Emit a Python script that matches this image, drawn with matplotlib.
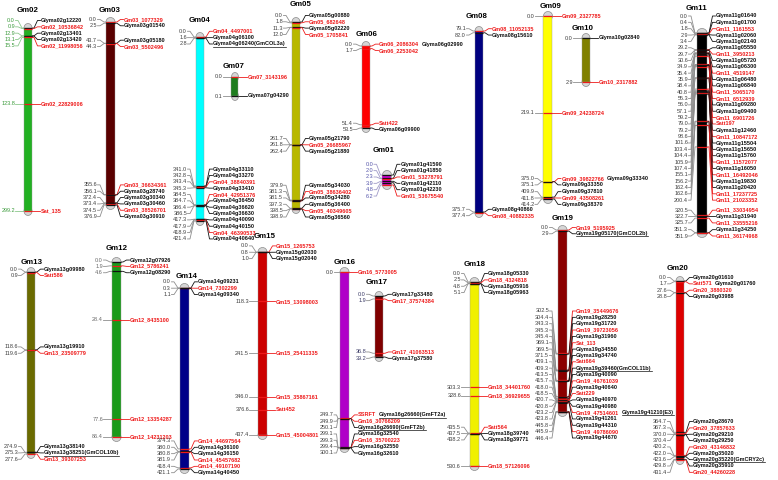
import matplotlib.pyplot as plt
from matplotlib.patches import Rectangle, Ellipse

plt.rcParams['font.family'] = ['Liberation Sans', 'DejaVu Sans']

# marker positions (cM) and marker names per chromosome
gm01_pos = [0.0, 2.0, 2.3, 3.9, 4.8, 6.2]
gm01_names = ['Glyma01g41590', 'Glyma01g41850', 'Gm01_53278791', 'Glyma01g42110', 'Glyma01g42230', 'Gm01_53675540']

gm02_pos = [0.0, 0.9, 12.9, 13.1, 15.5, 123.8, 299.2]
gm02_names = ['Glyma02g12220', 'Gm02_10536842', 'Glyma02g13401', 'Glyma02g13420', 'Gm02_11998056',
              'Gm02_22829006', 'Sat_135']

gm03_pos = [0.0, 2.5, 43.7, 44.3, 355.6, 356.1, 372.4, 373.4, 374.5, 376.9]
gm03_names = ['Gm03_1077329', 'Glyma03g01540', 'Glyma03g05180', 'Gm03_5502496', 'Gm03_36634361',
              'Glyma03g28740', 'Glyma03g30340', 'Glyma03g30460', 'Gm03_38526701', 'Glyma03g30910']

gm04_pos = [0.0, 1.6, 2.8, 341.0, 342.8, 343.4, 345.3, 384.5, 384.7, 386.4, 386.5, 417.3, 417.9, 418.9, 421.4]
gm04_names = ['Gm04_4497001', 'Glyma04g06100', 'Glyma04g06240(GmCOL3a)', 'Glyma04g33110', 'Glyma04g33270',
              'Gm04_38840391', 'Glyma04g33410', 'Gm04_42951376', 'Glyma04g36450', 'Glyma04g36620',
              'Glyma04g36630', 'Glyma04g40090', 'Glyma04g40150', 'Gm04_46390533', 'Glyma04g40640']

gm05_pos = [0.0, 1.8, 11.3, 12.0, 261.7, 261.8, 262.4, 379.9, 381.3, 381.5, 397.3, 398.5, 398.9]
gm05_names = ['Glyma05g00880', 'Gm05_682648', 'Glyma05g02220', 'Gm05_1705841', 'Glyma05g21790',
              'Gm05_26685967', 'Glyma05g21880', 'Glyma05g34030', 'Gm05_38636402', 'Glyma05g34280',
              'Glyma05g36400', 'Gm05_40349605', 'Glyma05g36560']

gm06_pos = [0.0, 1.7, 51.4, 53.5]
gm06_names = ['Gm06_2086304 Glyma06g02990', 'Gm06_2253042', 'Satt422', 'Glyma06g09900']

gm07_pos = [0.0, 0.1]
gm07_names = ['Gm07_3143196', 'Glyma07g04290']

gm08_pos = [79.1, 82.0, 375.7, 377.4]
gm08_names = ['Gm08_11052135', 'Glyma08g15610', 'Glyma08g40860', 'Gm08_40882335']

gm09_pos = [0.0, 219.1, 375.0, 375.1, 409.9, 411.8, 414.2]
gm09_names = ['Gm09_2327785', 'Gm09_24238724', 'Gm09_39822766 Glyma09g33340', 'Glyma09g33350',
              'Glyma09g37810', 'Gm09_43508261', 'Glyma09g38370']

gm10_pos = [0.0, 2.9]
gm10_names = ['Glyma10g02840', 'Gm10_2317882']

gm11_pos = [0.0, 0.4, 1.8, 2.9, 3.4, 29.2, 29.7, 30.6, 34.9, 35.4, 35.9, 38.4, 40.8, 55.3, 56.0, 57.1,
            59.2, 79.0, 79.2, 98.6, 101.6, 103.4, 104.4, 105.9, 107.4, 155.1, 156.2, 162.4, 162.6,
            200.4, 320.5, 322.7, 325.7, 351.3, 351.9]
gm11_names = ['Glyma11g01640', 'Glyma11g01700', 'Gm11_1161553', 'Glyma11g02060', 'Glyma11g02140',
              'Glyma11g05550', 'Gm11_3950213', 'Glyma11g05720', 'Glyma11g06300', 'Gm11_4519147',
              'Glyma11g06480', 'Glyma11g06840', 'Gm11_5065170', 'Gm11_6512939', 'Glyma11g09280',
              'Glyma11g09400', 'Gm11_6901726', 'Satt197', 'Glyma11g12460', 'Gm11_10847172',
              'Glyma11g15504', 'Glyma11g15650', 'Glyma11g15760', 'Gm11_11572077', 'Glyma11g16050',
              'Gm11_16492046', 'Glyma11g19830', 'Glyma11g20420', 'Gm11_17237725', 'Gm11_21023352',
              'Gm11_33034954', 'Glyma11g31940', 'Gm11_33555216', 'Glyma11g34250', 'Gm11_36174968']

gm12_pos = [0.0, 1.9, 4.6, 28.4, 77.6, 86.4]
gm12_names = ['Glyma12g07926', 'Gm12_5786241', 'Glyma12g08290', 'Gm12_8435100', 'Gm12_13354287',
              'Gm12_14231203']

gm13_pos = [0.0, 0.9, 118.6, 119.6, 274.9, 275.3, 277.6]
gm13_names = ['Glyma13g09980', 'Satt586', 'Glyma13g19910', 'Gm13_23509779', 'Glyma13g38140',
              'Glyma13g38251(GmCOL10b)', 'Gm13_39307253']

gm14_pos = [0.0, 0.3, 1.1, 374.3, 380.0, 380.8, 381.9, 418.4, 421.1]
gm14_names = ['Glyma14g09231', 'Gm14_7302299', 'Glyma14g09340', 'Gm14_44697564', 'Glyma14g36100',
              'Glyma14g36150', 'Gm14_45457682', 'Gm14_49107190', 'Glyma14g40450']

gm15_pos = [0.0, 0.8, 1.0, 118.3, 241.5, 346.0, 376.6, 437.4]
gm15_names = ['Gm15_1265753', 'Glyma15g02030', 'Glyma15g02040', 'Gm15_13098003', 'Gm15_25411335',
              'Gm15_35867161', 'Satt452', 'Gm15_45004801']

gm16_pos = [0.0, 249.7, 249.9, 250.1, 299.1, 299.3, 299.4, 300.1]
gm16_names = ['Gm16_5773005', 'SSRFT Glyma16g26660(GmFT2a)', 'Gm16_30766209', 'Glyma16g26690(GmFT2b)',
              'Glyma16g32540', 'Gm16_35700223', 'Glyma16g32550', 'Glyma16g32610']

gm17_pos = [0.0, 1.9, 36.8, 39.2]
gm17_names = ['Glyma17g33480', 'Gm17_37574384', 'Gm17_41063513', 'Glyma17g37580']

gm18_pos = [0.0, 2.5, 4.8, 5.1, 303.3, 328.6, 435.5, 437.5, 438.2, 530.6]
gm18_names = ['Glyma18g05330', 'Gm18_4324818', 'Glyma18g05916', 'Glyma18g05963', 'Gm18_34401760',
              'Gm18_36929655', 'Satt564', 'Glyma18g39740', 'Glyma18g39771', 'Gm18_57126096']

gm19_pos = [0.0, 2.9, 302.5, 304.4, 343.3, 345.3, 345.4, 369.1, 369.5, 371.5, 409.1, 409.3, 413.5,
            415.7, 418.0, 418.5, 420.7, 420.8, 423.2, 423.8, 445.8, 445.9, 446.4]
gm19_names = ['Gm19_5195925', 'Glyma19g05170(GmCOL2b)', 'Gm19_35449676', 'Glyma19g28250', 'Glyma19g31720',
              'Gm19_39723056', 'Glyma19g31960', 'Sat_113', 'Glyma19g34550', 'Glyma19g34740', 'Satt664',
              'Glyma19g39460(GmCOL11b)', 'Glyma19g40090', 'Gm19_46761039', 'Glyma19g40640', 'Satt229',
              'Glyma19g40970', 'Glyma19g40980', 'Gm19_47514601 Glyma19g41210(E3)', 'Glyma19g41261',
              'Glyma19g44310', 'Gm19_49786090', 'Glyma19g44670']

gm20_pos = [0.0, 1.7, 27.6, 28.8, 364.7, 367.3, 370.0, 370.4, 420.2, 422.0, 423.6, 429.8, 431.4]
gm20_names = ['Glyma20g01610', 'Satt571 Glyma20g01760', 'Gm20_3880320', 'Glyma20g03988', 'Glyma20g28670',
              'Gm20_37857633', 'Glyma20g29210', 'Glyma20g29250', 'Gm20_43146832', 'Glyma20g35020',
              'Glyma20g35220(GmCRY2c)', 'Glyma20g35910', 'Gm20_44260228']

chroms = {
    'Gm01': (gm01_pos, gm01_names), 'Gm02': (gm02_pos, gm02_names), 'Gm03': (gm03_pos, gm03_names),
    'Gm04': (gm04_pos, gm04_names), 'Gm05': (gm05_pos, gm05_names), 'Gm06': (gm06_pos, gm06_names),
    'Gm07': (gm07_pos, gm07_names), 'Gm08': (gm08_pos, gm08_names), 'Gm09': (gm09_pos, gm09_names),
    'Gm10': (gm10_pos, gm10_names), 'Gm11': (gm11_pos, gm11_names), 'Gm12': (gm12_pos, gm12_names),
    'Gm13': (gm13_pos, gm13_names), 'Gm14': (gm14_pos, gm14_names), 'Gm15': (gm15_pos, gm15_names),
    'Gm16': (gm16_pos, gm16_names), 'Gm17': (gm17_pos, gm17_names), 'Gm18': (gm18_pos, gm18_names),
    'Gm19': (gm19_pos, gm19_names), 'Gm20': (gm20_pos, gm20_names),
}

# layout in pixels: bar centre x, y of first/last marker, width, colour, title position
layout = {
    'Gm02': dict(x=28, top=28, bot=211, w=8, c='#22b022', tx=28, ty=10, nc='#3a9a3a', lc='#8cc88c'),
    'Gm03': dict(x=110.5, top=22, bot=205, w=9, c='#5a0000', tx=110, ty=10),
    'Gm04': dict(x=200, top=37, bot=221, w=8, c='#00ffff', tx=200, ty=20),
    'Gm07': dict(x=235, top=77, bot=96, w=7, c='#1e7d1e', tx=234, ty=67),
    'Gm05': dict(x=296, top=22, bot=209, w=8, c='#b8b800', tx=301, ty=4, hi=217),
    'Gm06': dict(x=366, top=46, bot=128, w=8, c='#ff0000', tx=367, ty=34),
    'Gm01': dict(x=387, top=175, bot=185, w=9, c='#d000d0', tx=384, ty=151, nc='#5555aa', lc='#a09ac8'),
    'Gm08': dict(x=479, top=31, bot=213, w=8, c='#000080', tx=477, ty=17),
    'Gm09': dict(x=548, top=16, bot=199, w=9, c='#ffff00', tx=551, ty=7),
    'Gm10': dict(x=586, top=38, bot=82, w=8, c='#808000', tx=583, ty=29),
    'Gm11': dict(x=702, top=33, bot=233, w=10, c='#000000', tx=697, ty=8, lo=16),
    'Gm13': dict(x=31, top=272, bot=454, w=8, c='#6b6b00', tx=32, ty=262),
    'Gm12': dict(x=116.5, top=262, bot=437, w=9, c='#1a9a1a', tx=117, ty=249, nc='#6a6a6a'),
    'Gm14': dict(x=184.5, top=288, bot=469, w=9, c='#000088', tx=187, ty=276),
    'Gm15': dict(x=262.5, top=252, bot=435, w=9, c='#cc0000', tx=265, ty=237),
    'Gm16': dict(x=344.5, top=272, bot=448, w=9, c='#b000c8', tx=345, ty=262, hi=453, slack=4, gl=6.5),
    'Gm17': dict(x=379, top=296, bot=357, w=8, c='#800000', tx=377, ty=283, nc='#3a3a66'),
    'Gm18': dict(x=474.5, top=282, bot=466, w=9, c='#f0f000', tx=475, ty=265),
    'Gm19': dict(x=562.5, top=230, bot=412, w=9, c='#8b0000', tx=563, ty=219, hi=438),
    'Gm20': dict(x=680, top=281, bot=460, w=8, c='#dd0000', tx=678, ty=269),
}

RED = '#ee1a1a'
STEP = 6.35
GAP = 9


def spread(ys, step, lo=-1e9, hi=1e9, slack=0.0):
    # push labels apart, keeping each crowded group centred on its markers
    groups = [[i] for i in range(len(ys))]

    def start_of(g):
        n = len(g)
        s = sum(ys[i] for i in g) / n - (n - 1) * step / 2
        return max(min(s, hi - (n - 1) * step), lo)

    while True:
        starts = [start_of(g) for g in groups]
        merged = False
        for k in range(len(groups) - 1):
            end_k = starts[k] + (len(groups[k]) - 1) * step
            if starts[k + 1] - end_k < step + slack - 1e-6:
                groups[k] = groups[k] + groups.pop(k + 1)
                merged = True
                break
        if not merged:
            break
    out = []
    for g, s in zip(groups, starts):
        out += [s + j * step for j in range(len(g))]
    return out


def is_red(tok):
    return not tok.startswith('Glyma')


fig = plt.figure(figsize=(7.78, 4.8), dpi=100)
ax = fig.add_axes([0, 0, 1, 1])
ax.set_xlim(0, 778)
ax.set_ylim(480, 0)
ax.axis('off')
renderer = fig.canvas.get_renderer()
inv = ax.transData.inverted()

underlined = []

for name, (pos, names) in chroms.items():
    L = layout[name]
    cmin, cmax = pos[0], pos[-1]
    my = [L['top'] + (c - cmin) / (cmax - cmin) * (L['bot'] - L['top']) for c in pos]
    ly = spread(my, STEP, L.get('lo', -1e9), L.get('hi', 1e9), L.get('slack', 0.0))
    xl = L['x'] - L['w'] / 2
    xr = L['x'] + L['w'] / 2
    num_x = xl - L.get('gl', GAP)
    name_x = xr + GAP

    # chromosome body with rounded grey ends
    for yy in (L['top'], L['bot']):
        ax.add_patch(Ellipse((L['x'], yy), L['w'], 9, fc='#d6d6d6', ec='#8a8a8a', lw=0.5, zorder=2))
    ax.add_patch(Rectangle((xl, L['top']), L['w'], L['bot'] - L['top'], fc=L['c'],
                           ec='#9a9a9a', lw=0.3, zorder=3))
    ax.text(L['tx'], L['ty'], name, fontsize=5.7, fontweight='bold', ha='center', va='center')

    nc = L.get('nc', '#3e3e3e')
    lc = L.get('lc', '#8e8e8e')
    for c, m, y, lab in zip(pos, my, ly, names):
        toks = lab.split(' ')
        col = RED if is_red(toks[0]) else '#111111'
        # marker line across the bar
        ax.plot([xl, xr], [m, m], color=col, lw=0.9, zorder=4, solid_capstyle='butt')
        # left leader + position
        ax.plot([num_x + 0.5, num_x + 3, xl - 2, xl], [y, y, m, m], color=lc, lw=0.6, zorder=1)
        ax.text(num_x, y, f'{c:.1f}', fontsize=4.0, color=nc, ha='right', va='center')
        # right leader + marker name
        ax.plot([xr, xr + 2, name_x - 3.5, name_x - 0.5], [m, m, y, y], color=col, lw=0.6, zorder=1)
        x = name_x
        for tok in toks:
            tc = RED if is_red(tok) else '#111111'
            t = ax.text(x, y, tok, fontsize=4.0, fontweight='bold', color=tc, ha='left', va='center')
            ext = t.get_window_extent(renderer)
            x0, y0 = inv.transform((ext.x0, ext.y0))
            x1, _ = inv.transform((ext.x1, ext.y0))
            if '(' in tok:
                underlined.append((x0, x1, y + 2.6))
            x = x1 + 2.5

for x0, x1, yy in underlined:
    ax.plot([x0, x1], [yy, yy], color='#111111', lw=0.5)

fig.savefig('out.png', dpi=100, facecolor='white')
